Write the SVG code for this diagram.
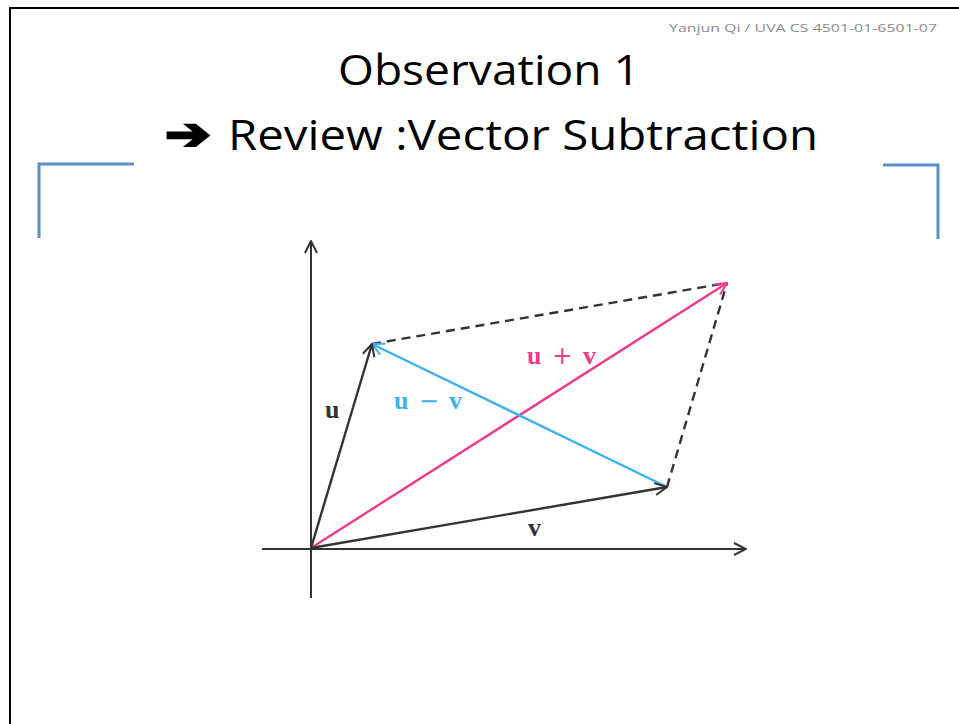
<svg xmlns="http://www.w3.org/2000/svg" width="959" height="724" viewBox="0 0 959 724">
<defs>
<style>
.t{font-family:"Open Sans","Liberation Sans",sans-serif;fill:#000}
.lab{font-family:"Liberation Serif","DejaVu Serif",serif;font-weight:bold;font-size:26px}
.op{font-family:"DejaVu Sans",sans-serif;font-weight:normal;font-size:24px}
.ax{stroke:#333;stroke-width:2;fill:none}
.vec{stroke-width:2.4;fill:none}
.br{stroke:#5b8fc7;stroke-width:3;fill:none}
</style>
<marker id="ah" viewBox="0 0 14 14" refX="13" refY="7" markerWidth="14" markerHeight="14" markerUnits="userSpaceOnUse" orient="auto">
<path d="M1,1 L13,7 L1,13" fill="none" stroke="#333" stroke-width="2"/>
</marker>
<marker id="ahb" viewBox="0 0 14 14" refX="13" refY="7" markerWidth="14" markerHeight="14" markerUnits="userSpaceOnUse" orient="auto">
<path d="M1,1 L13,7 L1,13" fill="none" stroke="#3cb2ee" stroke-width="2"/>
</marker>
<marker id="ahp" viewBox="0 0 14 14" refX="13" refY="7" markerWidth="14" markerHeight="14" markerUnits="userSpaceOnUse" orient="auto">
<path d="M1,1 L13,7 L1,13" fill="none" stroke="#ec3a8c" stroke-width="2"/>
</marker>
</defs>
<rect x="0" y="0" width="959" height="724" fill="#fff"/>
<g id="frame">
<path d="M10,724 L10,8 L959,8" fill="none" stroke="#000" stroke-width="2"/>
</g>
<g id="header">
<text x="937" y="32" text-anchor="end" font-family="Open Sans,Liberation Sans,sans-serif" font-size="11.5" fill="#8a8a8a" textLength="268" lengthAdjust="spacingAndGlyphs">Yanjun Qi / UVA CS 4501-01-6501-07</text>
</g>
<g id="title">
<text class="t" x="338" y="85" font-size="42" textLength="302" lengthAdjust="spacingAndGlyphs">Observation 1</text>
<text x="165" y="149" font-family="DejaVu Sans,sans-serif" font-size="44" font-weight="bold" stroke="#000" stroke-width="2.5" textLength="46" lengthAdjust="spacingAndGlyphs">➔</text>
<text class="t" x="228" y="150" font-size="42" textLength="590" lengthAdjust="spacingAndGlyphs">Review :Vector Subtraction</text>
</g>
<g id="brackets">
<path class="br" d="M134,164 L39,164 L39,238"/>
<path class="br" d="M883,165 L938,165 L938,239"/>
</g>
<g id="axes">
<line class="ax" x1="311" y1="598" x2="311" y2="241" marker-end="url(#ah)"/>
<line class="ax" x1="262" y1="549" x2="746" y2="549" marker-end="url(#ah)"/>
</g>
<g id="connectors">
<line class="vec" x1="372" y1="344" x2="727" y2="283" stroke="#333" stroke-dasharray="9,6" stroke-width="1.8"/>
<line class="vec" x1="667" y1="487" x2="727" y2="283" stroke="#333" stroke-dasharray="9,6" stroke-width="1.8"/>
<line class="vec" x1="311" y1="548" x2="727" y2="283" stroke="#ec3a8c" marker-end="url(#ahp)"/>
<line class="vec" x1="667" y1="487" x2="372" y2="344" stroke="#3cb2ee" marker-end="url(#ahb)"/>
<line class="vec" x1="311" y1="548" x2="372" y2="344" stroke="#333" marker-end="url(#ah)"/>
<line class="vec" x1="311" y1="548" x2="667" y2="487" stroke="#333" marker-end="url(#ah)"/>
</g>
<g id="labels">
<text class="lab" x="325" y="418" fill="#333">u</text>
<text class="lab" x="394" y="409" fill="#3cb2ee" textLength="68" lengthAdjust="spacing">u <tspan class="op">−</tspan> v</text>
<text class="lab" x="527" y="364" fill="#ec3a8c" textLength="69" lengthAdjust="spacing">u <tspan class="op">+</tspan> v</text>
<text class="lab" x="528" y="536" fill="#333">v</text>
</g>
</svg>
